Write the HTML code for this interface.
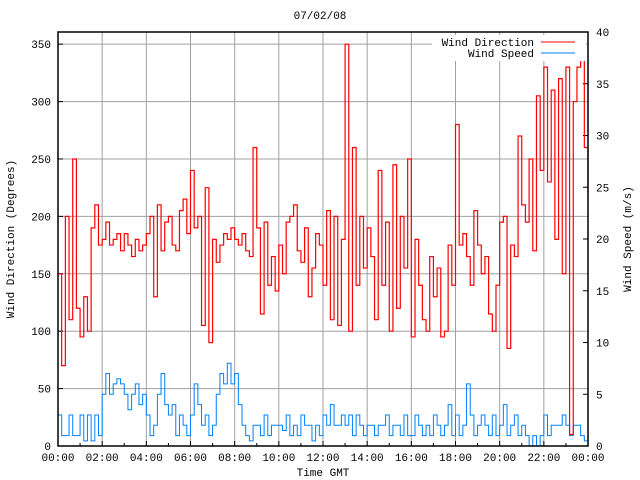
<!DOCTYPE html>
<html><head><meta charset="utf-8"><style>
body{margin:0;background:#fff;}
svg{display:block;font-family:"Liberation Mono",monospace;font-size:11px;}
</style></head><body>
<svg id="chart" width="640" height="480">
<rect width="640" height="480" fill="#fff"/>
<text x="320" y="19" text-anchor="middle">07/02/08</text>
<g id="grid"></g>
<g id="ticks"></g>
<g id="series"></g>
<rect x="58" y="32" width="530" height="414" fill="none" stroke="#000" stroke-width="1.5"/>
<text x="323" y="476" text-anchor="middle">Time GMT</text>
<text transform="translate(14,239) rotate(-90)" text-anchor="middle">Wind Direction (Degrees)</text>
<text transform="translate(631,239) rotate(-90)" text-anchor="middle">Wind Speed (m/s)</text>
<g>
<rect x="432" y="35" width="154" height="26" fill="#fff"/>
<text x="534" y="46" text-anchor="end">Wind Direction</text>
<line x1="541" y1="42" x2="575" y2="42" stroke="#f00"/>
<text x="534" y="57" text-anchor="end">Wind Speed</text>
<line x1="541" y1="53" x2="575" y2="53" stroke="#0080ff"/>
</g>
</svg>
<script>
const dirTicks=[0,50,100,150,200,250,300,350];
const spdTicks=[0,5,10,15,20,25,30,35,40];
const timeLabels=["00:00","02:00","04:00","06:00","08:00","10:00","12:00","14:00","16:00","18:00","20:00","22:00","00:00"];
const direction=[150,70,200,110,250,120, 95,130,100,190,210,175, 180,195,175,180,185,170, 185,175,165,180,170,175,
185,200,130,210,170,195, 200,175,170,205,215,185, 240,190,200,105,225,90, 180,160,175,185,180,190,
180,175,185,170,165,260, 190,115,195,140,165,135, 175,150,195,200,210,170, 160,190,130,155,185,175,
140,205,110,200,105,180, 350,100,260,140,200,155, 190,165,110,240,140,195, 100,245,120,200,155,250,
95,180,140,110,100,165, 130,155,95,100,175,140, 280,175,185,165,140,205, 175,150,165,115,100,140,
195,200,85,175,165,270, 210,195,250,170,305,240, 330,230,310,180,320,150, 330,10,300,330,340,260, 220];
const speed=[3,1,1,3,1,1, 3,0.5,3,0.5,3,1, 5,7,5,6,6.5,6, 5,3.5,5,6,4,5,
3,1,2,5,7,4, 3,4,1,3,2,1, 3,6,4,2,3,1, 2,5,7,6,8,6,
7,4,2,1,0.5,2, 2,1,3,1,2,2, 2,1.5,3,1,2,1, 3,2,2,0.5,2,1,
3,2,4,2,2,3, 2,3,1,3,2,1, 2,2,1,2,2,3, 1,2,2,1,3,1,
1,3,2,1,2,1, 3,2,1,2,4,1, 3,1,2,6,3,1, 2,3,2,1,3,1,
2,4,1,2,3,1, 2,1,0,1,0,1, 3,1,2,2,2,3, 2,1,2,2,1,0.5, 1];
const NS="http://www.w3.org/2000/svg";
const L=58,R=588,T=32,B=446;
const xs=i=>L+(R-L)*i/(direction.length-1);
const xh=h=>L+(R-L)*h/24;
const yd=v=>B-(B-T)*v/360.6;
const ys=v=>B-(B-T)*v/40;
function mk(tag,attrs,parent){const e=document.createElementNS(NS,tag);for(const k in attrs)e.setAttribute(k,attrs[k]);parent.appendChild(e);return e;}
const grid=document.getElementById('grid'),ticks=document.getElementById('ticks'),ser=document.getElementById('series');
dirTicks.forEach(v=>{
 if(v>0){const g=mk('line',{x1:L,x2:R,y1:yd(v),y2:yd(v),stroke:'#a0a0a0'},grid);
 
 }
 const t=mk('line',{x1:L,x2:L+5,y1:yd(v),y2:yd(v),stroke:'#000'},ticks);
 
 
 const tx=mk('text',{x:51,y:yd(v)+4,'text-anchor':'end'},ticks);tx.textContent=v;
 
 
});
spdTicks.forEach(v=>{
 const t=mk('line',{x1:R-5,x2:R,y1:ys(v),y2:ys(v),stroke:'#000'},ticks);
 
 
 const tx=mk('text',{x:596,y:ys(v)+4},ticks);tx.textContent=v;
 
 
});
for(let h=0;h<=24;h++){
 const x=xh(h);
 if(h%2==0){
  if(h>0&&h<24){const g=mk('line',{x1:x,x2:x,y1:T,y2:B,stroke:'#a0a0a0'},grid);
  
  }
  const tx=mk('text',{x:x,y:461,'text-anchor':'middle'},ticks);tx.textContent=timeLabels[h/2];
  
  
 }
 const t=mk('line',{x1:x,x2:x,y1:B-(h%2?3:5),y2:B,stroke:'#000'},ticks);
 
 
}
function stepPts(arr,yf){let p=[];arr.forEach((v,i)=>{if(i>0)p.push(xs(i)+','+yf(arr[i-1]));p.push(xs(i)+','+yf(v));});return p.join(' ');}
const sp=mk('polyline',{points:stepPts(speed,ys),fill:'none',stroke:'#0080ff','stroke-width':1},ser);


const dp=mk('polyline',{points:stepPts(direction,yd),fill:'none',stroke:'#f00','stroke-width':1.2},ser);


</script>
</body></html>
